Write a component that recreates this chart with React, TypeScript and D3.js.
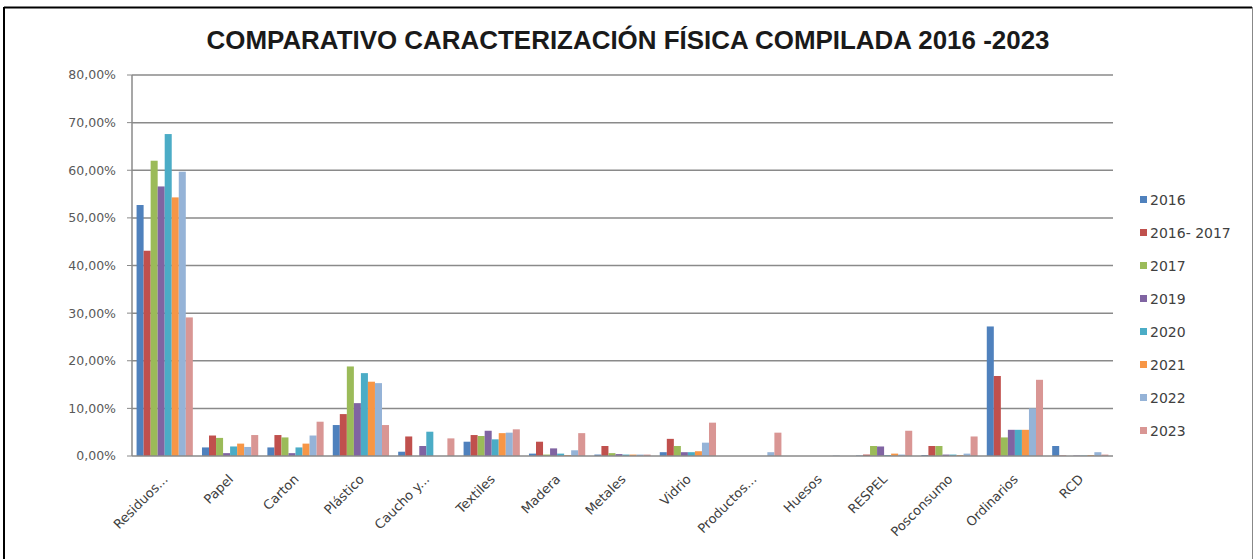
import React from "react";
import * as d3 from "d3";

const categories = ["Residuos...", "Papel", "Carton", "Plástico", "Caucho y...", "Textiles", "Madera", "Metales", "Vidrio", "Productos...", "Huesos", "RESPEL", "Posconsumo", "Ordinarios", "RCD"];
const seriesNames = ["2016", "2016- 2017", "2017", "2019", "2020", "2021", "2022", "2023"];
const seriesColors = ["#4F81BD", "#C0504D", "#9BBB59", "#8064A2", "#4BACC6", "#F79646", "#95B3D7", "#D99694"];

// values in percent, one array per series, in category order
const s2016 = [52.7, 1.8, 1.8, 6.5, 0.9, 3.0, 0.5, 0.3, 0.8, 0.0, 0.0, 0.1, 0.2, 27.2, 2.1];
const s2016_2017 = [43.1, 4.3, 4.4, 8.8, 4.1, 4.4, 3.0, 2.1, 3.6, 0.0, 0.0, 0.3, 2.1, 16.8, 0.1];
const s2017 = [62.0, 3.8, 3.9, 18.8, 0.0, 4.2, 0.3, 0.6, 2.1, 0.0, 0.0, 2.1, 2.1, 3.9, 0.0];
const s2019 = [56.6, 0.6, 0.6, 11.1, 2.1, 5.3, 1.6, 0.4, 0.8, 0.0, 0.0, 2.0, 0.3, 5.5, 0.1];
const s2020 = [67.6, 2.0, 1.8, 17.4, 5.1, 3.5, 0.5, 0.3, 0.8, 0.0, 0.0, 0.2, 0.3, 5.5, 0.1];
const s2021 = [54.3, 2.6, 2.6, 15.6, 0.0, 4.8, 0.2, 0.3, 1.0, 0.0, 0.0, 0.5, 0.2, 5.5, 0.2];
const s2022 = [59.7, 1.9, 4.3, 15.3, 0.0, 4.9, 1.2, 0.3, 2.8, 0.8, 0.1, 0.3, 0.5, 10.0, 0.8];
const s2023 = [29.1, 4.4, 7.2, 6.5, 3.7, 5.6, 4.8, 0.3, 7.0, 4.9, 0.0, 5.3, 4.1, 16.0, 0.3];
const seriesValues = [s2016, s2016_2017, s2017, s2019, s2020, s2021, s2022, s2023];

const yTicks = [0, 10, 20, 30, 40, 50, 60, 70, 80];
const title = "COMPARATIVO CARACTERIZACIÓN FÍSICA COMPILADA 2016 -2023";

const W = 1254;
const H = 559;
const plot = { left: 132, right: 1113, top: 75, bottom: 456 };
const titleFont = "'Liberation Sans Narrow', 'Liberation Sans', sans-serif";
const labelFont = "'DejaVu Sans', 'Open Sans', sans-serif";

export default function App() {
  const x = d3.scaleBand<string>().domain(categories).range([plot.left, plot.right]).padding(0);
  const inner = d3
    .scaleBand<string>()
    .domain(seriesNames)
    .range([x.bandwidth() * 0.07, x.bandwidth() * 0.93])
    .padding(0);
  const y = d3.scaleLinear().domain([0, 80]).range([plot.bottom, plot.top]);
  const fmt = (v: number) => d3.format(".2f")(v).replace(".", ",") + "%";

  return (
    <svg width={W} height={H} style={{ position: "absolute", left: 0, top: 0, background: "#fff" }}>
      <rect x={0} y={0} width={W} height={H} fill="#fff" />
      {/* outer border */}
      <line x1={4} y1={7.5} x2={1252} y2={7.5} stroke="#000" strokeWidth={2} />
      <line x1={4} y1={7} x2={4} y2={H} stroke="#000" strokeWidth={2} />
      <line x1={1252.5} y1={7} x2={1252.5} y2={H} stroke="#888" strokeWidth={1} />

      {/* title */}
      <text
        x={628}
        y={49}
        textAnchor="middle"
        fontFamily={titleFont}
        fontWeight="bold"
        fontSize={26}
        fill="#1a1a1a"
        textLength={843}
        lengthAdjust="spacingAndGlyphs"
      >
        {title}
      </text>

      {/* gridlines */}
      {yTicks.map((t) => (
        <g key={t}>
          {t > 0 && (
            <line x1={plot.left} x2={plot.right} y1={y(t)} y2={y(t)} stroke="#8a8a8a" strokeWidth={1.5} />
          )}
          <line x1={plot.left - 5} x2={plot.left} y1={y(t)} y2={y(t)} stroke="#8a8a8a" strokeWidth={1} />
          <text
            x={116}
            y={y(t)}
            dy="0.35em"
            textAnchor="end"
            fontFamily={labelFont}
            fontSize={12.5}
            fill="#595959"
          >
            {fmt(t)}
          </text>
        </g>
      ))}

      {/* bars */}
      {categories.map((c, ci) => (
        <g key={c} transform={`translate(${x(c)},0)`}>
          {seriesNames.map((s, si) => {
            const v = seriesValues[si][ci];
            return (
              <rect
                key={s}
                x={inner(s)}
                y={y(v)}
                width={inner.bandwidth()}
                height={plot.bottom - y(v)}
                fill={seriesColors[si]}
              />
            );
          })}
        </g>
      ))}

      {/* axes */}
      <line x1={plot.left} x2={plot.left} y1={plot.top} y2={plot.bottom} stroke="#8a8a8a" strokeWidth={1.5} />
      <line x1={plot.left} x2={plot.right} y1={plot.bottom} y2={plot.bottom} stroke="#8a8a8a" strokeWidth={1.5} />

      {/* category labels */}
      {categories.map((c) => {
        const cx = (x(c) as number) + x.bandwidth() / 2;
        return (
          <text
            key={c}
            transform={`translate(${cx + 4},${plot.bottom + 24}) rotate(-45)`}
            textAnchor="end"
            fontFamily={labelFont}
            fontSize={13}
            fill="#404040"
          >
            {c}
          </text>
        );
      })}

      {/* legend */}
      {seriesNames.map((s, i) => {
        const ly = 200 + i * 33;
        return (
          <g key={s}>
            <rect x={1140} y={ly - 4} width={7} height={7} fill={seriesColors[i]} />
            <text x={1150} y={ly} dy="0.35em" fontFamily={labelFont} fontSize={14} fill="#404040">
              {s}
            </text>
          </g>
        );
      })}
    </svg>
  );
}
